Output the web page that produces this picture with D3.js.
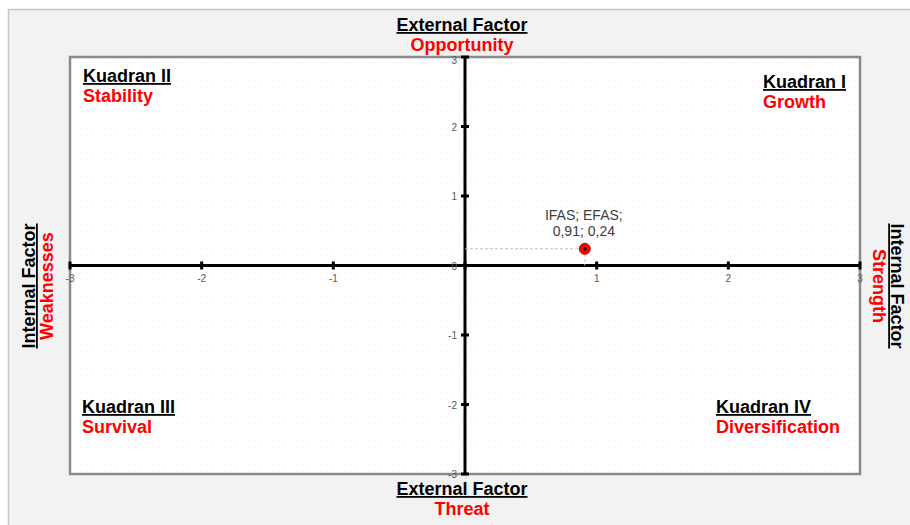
<!DOCTYPE html>
<html><head><meta charset="utf-8">
<script src="https://cdn.jsdelivr.net/npm/d3@7"></script>
<style>
html,body{margin:0;padding:0;background:#fff;}
svg{display:block;font-family:"Liberation Sans",Arial,sans-serif;}
</style></head>
<body>
<svg id="c" width="910" height="525"></svg>
<script>
const xTicks = [-3,-2,-1,0,1,2,3];
const yTicks = [-3,-2,-1,0,1,2,3];
const pointLabels = ["IFAS","EFAS"];
const pointValues = [0.91, 0.24];
const quadrantNames = ["Kuadran I","Kuadran II","Kuadran III","Kuadran IV"];
const quadrantStrategies = ["Growth","Stability","Survival","Diversification"];
const axisTitles = ["External Factor","Internal Factor"];
const axisPoles = ["Opportunity","Threat","Weaknesses","Strength"];

const svg = d3.select("#c");
const W=910,H=525;
const L=70,R=860,T=57,B=474;
const x = d3.scaleLinear().domain([-3,3]).range([L,R]);
const y = d3.scaleLinear().domain([-3,3]).range([B,T]);

// outer frame
svg.append("rect").attr("x",8.5).attr("y",9.5).attr("width",W).attr("height",H)
  .attr("fill","#f2f2f2").attr("stroke","#c8c8c8").attr("stroke-width",1.5);

// dotted pattern
const defs = svg.append("defs");
const pat = defs.append("pattern").attr("id","dots").attr("width",6).attr("height",6).attr("patternUnits","userSpaceOnUse");
pat.append("rect").attr("width",6).attr("height",6).attr("fill","#fff");
pat.append("rect").attr("x",2).attr("y",2).attr("width",1).attr("height",1).attr("fill","#eeeeee");

svg.append("rect").attr("x",L).attr("y",T).attr("width",R-L).attr("height",B-T)
  .attr("fill","url(#dots)").attr("stroke","#8a8a8a").attr("stroke-width",2.5);

// axes lines
svg.append("line").attr("x1",x(-3)).attr("x2",x(3)).attr("y1",y(0)).attr("y2",y(0))
  .attr("stroke","#000").attr("stroke-width",3);
svg.append("line").attr("y1",y(-3)).attr("y2",y(3)).attr("x1",x(0)).attr("x2",x(0))
  .attr("stroke","#000").attr("stroke-width",3);

// tick marks
svg.selectAll(".xt").data(xTicks).join("line")
  .attr("x1",d=>x(d)).attr("x2",d=>x(d)).attr("y1",y(0)-4).attr("y2",y(0)+4)
  .attr("stroke","#000").attr("stroke-width",3);
svg.selectAll(".yt").data(yTicks).join("line")
  .attr("y1",d=>y(d)).attr("y2",d=>y(d)).attr("x1",x(0)-4).attr("x2",x(0)+4)
  .attr("stroke","#000").attr("stroke-width",3);

// tick labels
svg.selectAll(".xl").data(xTicks.filter(d=>d!==0)).join("text")
  .attr("x",d=>x(d)).attr("y",y(0)+16).attr("text-anchor","middle")
  .attr("font-size",10).attr("fill","#595959").text(d=>d);
svg.selectAll(".yl").data(yTicks).join("text")
  .attr("x",x(0)-8).attr("y",d=>y(d)+(d===3?7:4)).attr("text-anchor","end")
  .attr("font-size",10).attr("fill","#595959").text(d=>d);

// point guides
const px = x(pointValues[0]), py = y(pointValues[1]);
svg.append("line").attr("x1",x(0)).attr("x2",px).attr("y1",py).attr("y2",py)
  .attr("stroke","#bfbfbf").attr("stroke-width",1).attr("stroke-dasharray","3,2");
svg.append("line").attr("x1",px).attr("x2",px).attr("y1",py).attr("y2",y(0))
  .attr("stroke","#bfbfbf").attr("stroke-width",1).attr("stroke-dasharray","3,2");
svg.append("circle").attr("cx",px).attr("cy",py).attr("r",5.5)
  .attr("fill","#ff0000").attr("stroke","#c00000").attr("stroke-width",1);
svg.append("circle").attr("cx",px).attr("cy",py).attr("r",1.8).attr("fill","#000");

const fmt = v => String(v).replace(".",",");
svg.append("text").attr("x",px-1).attr("y",py-29).attr("text-anchor","middle")
  .attr("font-size",14).attr("fill","#404040").text(pointLabels.join("; ")+";");
svg.append("text").attr("x",px-1).attr("y",py-13).attr("text-anchor","middle")
  .attr("font-size",14).attr("fill","#404040").text(pointValues.map(fmt).join("; "));

// helper for two-line labels
function label(g, t1, t2, anchor, x1, y1, x2, y2, size){
  g.append("text").attr("x",x1).attr("y",y1).attr("text-anchor",anchor)
    .attr("font-size",size).attr("font-weight","bold").attr("fill","#000")
    .attr("text-decoration","underline").text(t1);
  g.append("text").attr("x",x2).attr("y",y2).attr("text-anchor",anchor)
    .attr("font-size",size).attr("font-weight","bold").attr("fill","#ff0000").text(t2);
}

// axis titles
label(svg, axisTitles[0], axisPoles[0], "middle", 462, 31, 462, 51, 18);
label(svg, axisTitles[0], axisPoles[1], "middle", 462, 495, 462, 515, 18);
const gl = svg.append("g").attr("transform","translate(35,286) rotate(-90)");
label(gl, axisTitles[1], axisPoles[2], "middle", 0, 0, 0, 18, 18);
const gr = svg.append("g").attr("transform","translate(891,286) rotate(90)");
label(gr, axisTitles[1], axisPoles[3], "middle", 0, 0, 0, 18, 18);

// quadrant labels
label(svg, quadrantNames[1], quadrantStrategies[1], "start", 83, 82, 83, 102, 18);
label(svg, quadrantNames[0], quadrantStrategies[0], "start", 763, 88, 763, 108, 18);
label(svg, quadrantNames[2], quadrantStrategies[2], "start", 82, 413, 82, 433, 18);
label(svg, quadrantNames[3], quadrantStrategies[3], "start", 716, 413, 716, 433, 18);
</script>
</body></html>
